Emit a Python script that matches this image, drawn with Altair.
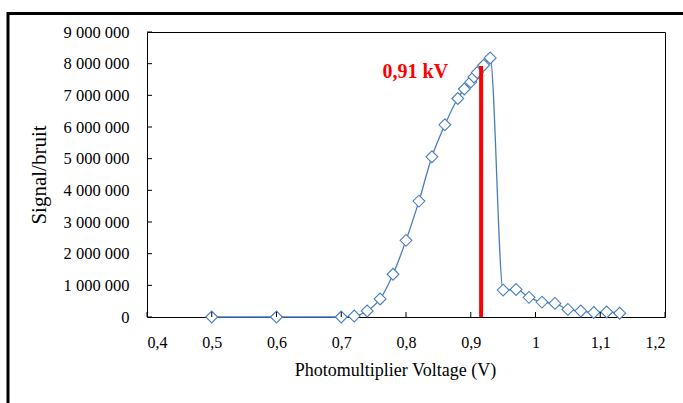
import altair as alt
import pandas as pd

# ---- data ----
voltage = [0.50, 0.60, 0.70, 0.72, 0.74, 0.76, 0.78, 0.80, 0.82, 0.84, 0.86,
           0.88, 0.89, 0.90, 0.905, 0.91, 0.92, 0.93,
           0.95, 0.97, 0.99, 1.01, 1.03, 1.05, 1.07, 1.09, 1.11, 1.13]
signal = [0, 0, 0, 30000, 190000, 570000, 1350000, 2420000, 3660000, 5060000, 6070000,
          6900000, 7200000, 7420000, 7580000, 7720000, 7950000, 8180000,
          850000, 870000, 620000, 470000, 430000, 240000, 190000, 140000, 160000, 120000]

x_ticks = [0.4, 0.5, 0.6, 0.7, 0.8, 0.9, 1.0, 1.1, 1.2]
y_ticks = [0, 1000000, 2000000, 3000000, 4000000, 5000000, 6000000, 7000000, 8000000, 9000000]

marker_x = [0.916]
marker_top = [7930000]
label_text = ["0,91 kV"]
label_x = [0.865]
label_y = [7550000]

df = pd.DataFrame({"v": voltage, "s": signal})
xt = pd.DataFrame({"v": x_ticks})
yt = pd.DataFrame({"s": y_ticks})
mk = pd.DataFrame({"v": marker_x, "s": marker_top, "s0": [0]})
lb = pd.DataFrame({"v": label_x, "s": label_y, "t": label_text})
one = pd.DataFrame({"k": [0]})

FONT = "Liberation Serif"
BLUE = "#4A7EBB"

xscale = alt.Scale(domain=[0.4, 1.2], nice=False, zero=False)
yscale = alt.Scale(domain=[0, 9000000], nice=False)

x_axis = alt.Axis(
    values=x_ticks, ticks=False, tickSize=0, grid=False, domain=False,
    labelOverlap=False,
    labelExpr="replace(format(datum.value, '~g'), '.', ',')",
    labelFont=FONT, labelFontSize=16, labelColor="black", labelPadding=17,
    title="Photomultiplier Voltage (V)", titleFont=FONT, titleFontSize=18,
    titleFontWeight="normal", titleColor="black", titlePadding=11, titleX=248,
)
y_axis = alt.Axis(
    values=y_ticks, ticks=False, tickSize=0, grid=False, domain=False,
    labelOverlap=False,
    labelExpr="replace(replace(format(datum.value, ','), ',', ' '), ',', ' ')",
    labelFont=FONT, labelFontSize=16.5, labelColor="black", labelPadding=18,
    title="Signal/bruit", titleFont=FONT, titleFontSize=21,
    titleFontWeight="normal", titleColor="black", titlePadding=14,
)

X = lambda f: alt.X(f, scale=xscale, axis=x_axis)
Y = lambda f: alt.Y(f, scale=yscale, axis=y_axis)

line = alt.Chart(df).mark_line(
    color=BLUE, strokeWidth=1.3, interpolate="monotone",
    point=alt.OverlayMarkDef(shape="diamond", filled=False, fill="white", size=140,
                             stroke=BLUE, strokeWidth=1.1),
).encode(x=X("v:Q"), y=Y("s:Q"))

red = alt.Chart(mk).mark_rule(color="#FF0000", strokeWidth=4).encode(
    x=X("v:Q"), y=Y("s:Q"), y2="s0:Q",
)

label = alt.Chart(lb).mark_text(
    color="#FF0000", font=FONT, fontSize=20, fontWeight="bold",
    align="right", baseline="alphabetic",
).encode(x=X("v:Q"), y=Y("s:Q"), text="t:N")

xtick_marks = alt.Chart(xt).mark_rule(color="black", strokeWidth=1).encode(
    x=X("v:Q"), y=alt.value(285), y2=alt.value(280),
)
ytick_marks = alt.Chart(yt).mark_rule(color="black", strokeWidth=1).encode(
    y=Y("s:Q"), x=alt.value(0), x2=alt.value(5),
)

border_top = alt.Chart(one).mark_rule(color="black", strokeWidth=3).encode(
    x=alt.value(-139), x2=alt.value(540), y=alt.value(-18.5),
)
border_left = alt.Chart(one).mark_rule(color="black", strokeWidth=3).encode(
    x=alt.value(-139), y=alt.value(-20), y2=alt.value(380),
)

chart = alt.layer(
    line, xtick_marks, ytick_marks, red, label, border_top, border_left
).properties(
    width=518, height=285,
    autosize=alt.AutoSizeParams(type="none"),
    padding={"left": 147, "top": 32, "right": 18, "bottom": 86},
    background="white",
).configure_view(
    stroke="black", strokeWidth=1, clip=False,
)

chart.save("out.html", embed_options={"renderer": "svg", "actions": False})
